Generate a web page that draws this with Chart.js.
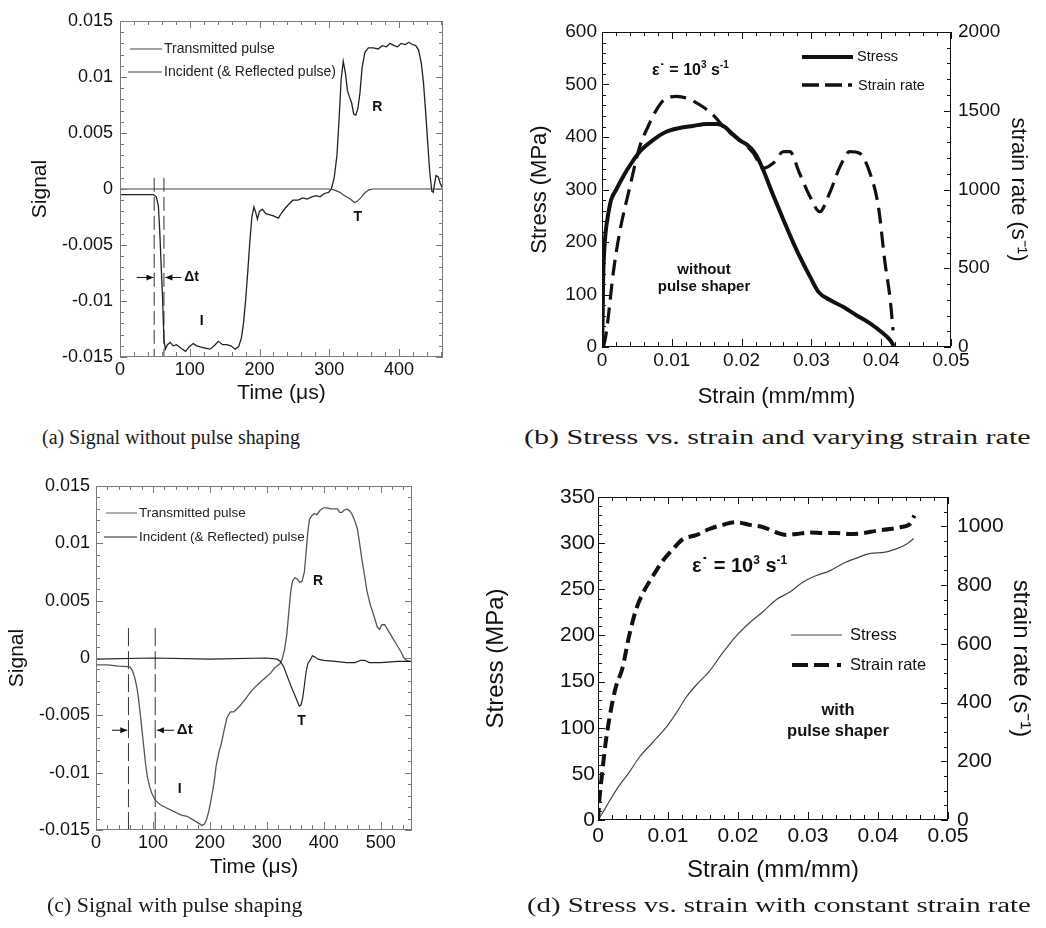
<!DOCTYPE html>
<html>
<head>
<meta charset="utf-8">
<script src="https://cdn.jsdelivr.net/npm/chart.js"></script>
<style>
  body { margin: 0; background: #fff; width: 1046px; height: 928px; position: relative; overflow: hidden; }
  canvas { position: absolute; }
  .cap { position: absolute; font-family: 'Liberation Serif', 'Times New Roman', serif; font-size: 20px; color: #1a1a1a; white-space: nowrap; transform-origin: 0 50%; }
</style>
</head>
<body>
<canvas id="chartA" width="470" height="420" style="left:0;top:0"></canvas>
<canvas id="chartB" width="566" height="420" style="left:480px;top:0"></canvas>
<canvas id="chartC" width="470" height="440" style="left:0;top:460px"></canvas>
<canvas id="chartD" width="576" height="440" style="left:470px;top:460px"></canvas>
<div class="cap" id="capA">(a) Signal without pulse shaping</div>
<div class="cap" id="capB">(b) Stress vs. strain and varying strain rate</div>
<div class="cap" id="capC">(c) Signal with pulse shaping</div>
<div class="cap" id="capD">(d) Stress vs. strain with constant strain rate</div>
<script>
// ---- data ----
// (a) signal without pulse shaping: [time us, signal]
const aIncident = [[0,-0.0005],[30,-0.0005],[48,-0.0005],[52,-0.0007],[55,-0.0015],[57,-0.0038],[59,-0.0068],[61,-0.0097],[63,-0.0135],
  [65,-0.0143],[68,-0.0139],[72,-0.0137],[76,-0.0140],[81,-0.0139],[87,-0.0142],[94,-0.0145],[99,-0.0141],[105,-0.0138],[110,-0.0140],
  [115,-0.0141],[122,-0.0142],[129,-0.0143],[135,-0.0140],[141,-0.0136],[147,-0.0139],[153,-0.0139],[159,-0.0140],[165,-0.0143],
  [170,-0.0141],[174,-0.0133],[177,-0.0120],[180,-0.0100],[183,-0.0075],[186,-0.0048],[189,-0.0025],[192,-0.0016],[195,-0.0022],
  [197,-0.0027],[200,-0.0020],[204,-0.0018],[209,-0.0022],[215,-0.0023],[220,-0.0024],[227,-0.0026],[232,-0.0021],[237,-0.0017],
  [243,-0.0013],[248,-0.0010],[255,-0.0010],[262,-0.0008],[268,-0.0009],[275,-0.0007],[281,-0.0006],[287,-0.0007],[293,-0.0004],
  [299,-0.0003],[303,0],[307,0.0010],[311,0.0030],[314,0.0062],[317,0.0098],[320,0.0114],[323,0.0104],[326,0.0088],[329,0.0082],
  [332,0.0077],[335,0.0067],[338,0.0066],[341,0.0072],[344,0.0086],[347,0.0108],[351,0.0122],[356,0.0126],[363,0.0126],[370,0.0125],
  [376,0.0128],[382,0.0127],[387,0.0130],[393,0.0128],[398,0.0127],[403,0.0130],[409,0.0129],[414,0.0131],[419,0.0129],[424,0.0128],
  [428,0.0124],[432,0.0112],[435,0.0095],[438,0.0070],[441,0.0042],[444,0.0015],[447,-0.0002],[449,-0.0003],[451,0.0005],[453,0.0012],
  [456,0.0011],[459,0.0005],[463,0]];
const aTransmitted = [[0,0],[300,0],[308,-0.0001],[315,-0.0003],[322,-0.0006],[330,-0.0009],[336,-0.0012],[340,-0.0011],[345,-0.0008],
  [350,-0.0004],[356,-0.0001],[362,0],[463,0]];
const aMarkers = [49, 63];

// (c) signal with pulse shaping
const cIncident = [[0,-0.0006],[20,-0.0006],[40,-0.0007],[55,-0.00075],[60,-0.0008],[64,-0.0011],[68,-0.0017],[72,-0.0026],[75,-0.0037],
  [78,-0.0050],[81,-0.0064],[84,-0.0078],[87,-0.0092],[90,-0.0103],[94,-0.0112],[98,-0.0118],[104,-0.0124],[113,-0.0128],[125,-0.0131],
  [137,-0.0134],[150,-0.0137],[160,-0.0138],[170,-0.0141],[180,-0.0144],[186,-0.0146],[190,-0.0145],[194,-0.0141],[198,-0.0134],
  [202,-0.0124],[207,-0.0110],[211,-0.0094],[216,-0.0082],[220,-0.0075],[225,-0.0063],[230,-0.0052],[236,-0.0047],[242,-0.0047],
  [248,-0.0044],[254,-0.0041],[262,-0.0036],[271,-0.0030],[280,-0.0025],[289,-0.0021],[298,-0.0017],[307,-0.0013],[313,-0.0009],
  [318,-0.0007],[323,-0.0005],[327,-0.0001],[331,0.0007],[335,0.0020],[339,0.0042],[342,0.0058],[345,0.0067],[349,0.0070],[353,0.0069],
  [358,0.0066],[362,0.0067],[366,0.0075],[369,0.0092],[372,0.0110],[375,0.0121],[379,0.0124],[383,0.0126],[388,0.0125],[394,0.0129],
  [400,0.0131],[406,0.0131],[412,0.0130],[418,0.0130],[424,0.0130],[428,0.0127],[432,0.0127],[436,0.0129],[441,0.0130],[446,0.0128],
  [450,0.0125],[455,0.0119],[459,0.0113],[463,0.0100],[467,0.0086],[471,0.0074],[476,0.0058],[482,0.0046],[488,0.0037],[494,0.0027],
  [498,0.0025],[502,0.0029],[507,0.0029],[512,0.0025],[518,0.0020],[524,0.0015],[530,0.0010],[536,0.0005],[541,0],[545,-0.0002],
  [550,-0.0003],[555,-0.0003]];
const cTransmitted = [[0,-0.0001],[100,0],[200,-0.0001],[300,0],[318,-0.0001],[324,-0.0003],[330,-0.0008],[336,-0.0016],[342,-0.0024],
  [348,-0.0031],[353,-0.0037],[357,-0.0042],[360,-0.0041],[363,-0.0035],[366,-0.0024],[369,-0.0012],[372,-0.0005],[376,-0.0002],
  [380,0.0002],[384,0.0001],[390,-0.0001],[400,-0.0002],[420,-0.0003],[440,-0.0004],[455,-0.0004],[465,-0.0002],[472,-0.0002],
  [480,-0.0004],[500,-0.0004],[530,-0.0003],[555,-0.0003]];
const cMarkers = [57, 104];

// (b) without pulse shaper: [strain, stress MPa] and [strain, strain rate 1/s]
const bStress = [[0,0],[0.0001,60],[0.00015,120],[0.0003,178],[0.0005,216],[0.0009,254],[0.0013,280],[0.002,299],[0.003,324],
  [0.0042,350],[0.0056,375],[0.0073,394],[0.0092,410],[0.0111,417],[0.013,421],[0.015,425],[0.0165,425],[0.0175,420],[0.0185,408],
  [0.0197,394],[0.0208,385],[0.0217,373],[0.0224,358],[0.0231,337],[0.0245,290],[0.026,242],[0.0279,184],[0.0298,134],[0.031,105],
  [0.0326,90],[0.0346,76],[0.0365,60],[0.0384,45],[0.04,29],[0.0413,13],[0.0418,2]];
const bRate = [[0.0002,0],[0.0005,60],[0.0009,191],[0.0016,467],[0.0025,721],[0.004,1018],[0.0054,1272],[0.0066,1400],[0.0078,1506],
  [0.0092,1580],[0.0107,1591],[0.0121,1580],[0.014,1538],[0.0159,1474],[0.0178,1379],[0.0197,1315],[0.0217,1230],[0.0231,1135],
  [0.0245,1166],[0.026,1240],[0.0269,1240],[0.0283,1103],[0.0298,955],[0.0312,859],[0.0326,976],[0.0341,1145],[0.0355,1240],
  [0.0369,1230],[0.0384,1103],[0.0396,891],[0.0405,551],[0.0413,297],[0.0417,106]];

// (d) with pulse shaper
const dStress = [[0,0],[0.0006,7],[0.0016,20],[0.003,37],[0.0044,51],[0.0059,68],[0.0078,84],[0.0097,100],[0.0111,115],[0.0126,133],
  [0.014,146],[0.0159,161],[0.0178,181],[0.0197,199],[0.0217,214],[0.0236,226],[0.0255,239],[0.0274,247],[0.0293,258],[0.0312,265],
  [0.0331,270],[0.035,278],[0.037,284],[0.0389,289],[0.0408,290],[0.0427,294],[0.0441,299],[0.0451,305]];
const dRate = [[0,0],[0.0002,69],[0.0006,161],[0.0011,265],[0.0018,369],[0.0025,449],[0.0035,518],[0.0044,622],[0.0054,714],
  [0.0064,772],[0.0078,829],[0.0092,881],[0.0107,922],[0.0121,956],[0.014,970],[0.0159,991],[0.0178,1005],[0.0197,1014],
  [0.0217,1005],[0.0236,997],[0.0255,979],[0.0269,971],[0.0283,974],[0.0303,979],[0.0322,977],[0.0341,977],[0.036,974],
  [0.0379,977],[0.0398,985],[0.0417,991],[0.0432,997],[0.0446,1009],[0.0452,1037]];

// tick labels
const signalTicks = [-0.015, -0.01, -0.005, 0, 0.005, 0.01, 0.015];
const aTimeTicks = [0, 100, 200, 300, 400];
const cTimeTicks = [0, 100, 200, 300, 400, 500];
const strainTicks = [0, 0.01, 0.02, 0.03, 0.04, 0.05];
const bStressTicks = [0, 100, 200, 300, 400, 500, 600];
const bRateTicks = [0, 500, 1000, 1500, 2000];
const dStressTicks = [0, 50, 100, 150, 200, 250, 300, 350];
const dRateTicks = [0, 200, 400, 600, 800, 1000];

// ---- drawing ----
const FONT = "'Liberation Sans', Arial, Helvetica, sans-serif";
Chart.defaults.font.family = FONT;
Chart.defaults.color = '#111';
Chart.defaults.animation = false;

const pts = arr => arr.map(([x, y]) => ({ x, y }));
const vline = (x, top, bottom) => [{ x, y: top }, { x, y: bottom }];

function axis(o) {
  const s = {
    type: 'linear', position: o.pos, min: o.min, max: o.max,
    grid: { display: false, drawTicks: false }, border: { display: false },
    afterBuildTicks: sc => { sc.ticks = o.ticks.map(v => ({ value: v })); },
    ticks: { font: { size: o.size }, padding: o.pad, autoSkip: false, maxRotation: 0, callback: v => String(v) },
    title: { display: true, text: o.title, font: { size: o.tsize }, padding: o.tpad },
  };
  if (o.w) s.afterFit = sc => { sc.width = o.w; };
  if (o.h) s.afterFit = sc => { sc.height = o.h; };
  return s;
}

// inward tick marks on every side of the plot box, minor and major
function marks(scale, steps, fn) {
  const minor = steps[0], major = steps[1];
  const n = Math.floor((scale.max - scale.min) / minor + 1e-6);
  for (let i = 0; i <= n; i++) {
    const v = scale.min + i * minor;
    const r = v / major;
    fn(Math.round(scale.getPixelForValue(v)), Math.abs(r - Math.round(r)) < 1e-6 ? 7 : 4);
  }
}

function frame(cfg) {
  return {
    id: 'frame',
    afterDraw(chart) {
      const ctx = chart.ctx, a = chart.chartArea, sc = chart.scales;
      const L = Math.round(a.left), R = Math.round(a.right) - 1, T = Math.round(a.top), B = Math.round(a.bottom) - 1;
      ctx.save();
      ctx.setLineDash([]);
      ctx.fillStyle = cfg.color;
      ctx.fillRect(L, T, R - L + 1, 1);
      ctx.fillRect(L, B, R - L + 1, 1);
      ctx.fillRect(L, T, 1, B - T + 1);
      ctx.fillRect(R, T, 1, B - T + 1);
      marks(sc.x, cfg.x, (p, len) => {
        ctx.fillRect(p, B - len, 1, len);
        ctx.fillRect(p, T, 1, len);
      });
      marks(sc.y, cfg.y, (p, len) => {
        ctx.fillRect(L, p, len, 1);
        if (!cfg.y2) ctx.fillRect(R - len + 1, p, len, 1);
      });
      if (cfg.y2) marks(sc.y2, cfg.y2, (p, len) => { ctx.fillRect(R - len + 1, p, len, 1); });
      ctx.fillStyle = '#111';
      ctx.strokeStyle = '#111';
      cfg.extra(chart, ctx);
      ctx.restore();
    }
  };
}

function rich(ctx, parts, x, y, size, align) {
  const f = sup => 'bold ' + (sup ? Math.round(size * 0.62) : size) + 'px ' + FONT;
  let w = 0;
  for (const [t, sup] of parts) { ctx.font = f(sup); w += ctx.measureText(t).width; }
  let cx = align === 'center' ? x - w / 2 : x;
  ctx.textAlign = 'left';
  ctx.textBaseline = 'alphabetic';
  for (const [t, sup] of parts) {
    ctx.font = f(sup);
    ctx.fillText(t, cx, sup ? y - size * 0.42 : y);
    cx += ctx.measureText(t).width;
  }
}

function label(ctx, t, x, y, size, bold, align) {
  ctx.font = (bold ? 'bold ' : '') + size + 'px ' + FONT;
  ctx.textAlign = align || 'left';
  ctx.textBaseline = 'middle';
  ctx.fillText(t, x, y);
}

function seg(ctx, x1, x2, y, color, width, dash) {
  ctx.save();
  ctx.strokeStyle = color;
  ctx.lineWidth = width;
  ctx.setLineDash(dash || []);
  ctx.beginPath(); ctx.moveTo(x1, y); ctx.lineTo(x2, y); ctx.stroke();
  ctx.restore();
}

function arrow(ctx, x1, x2, y) {
  ctx.lineWidth = 1;
  ctx.beginPath(); ctx.moveTo(x1, y); ctx.lineTo(x2, y); ctx.stroke();
  const d = Math.sign(x2 - x1);
  ctx.beginPath(); ctx.moveTo(x2, y); ctx.lineTo(x2 - d * 7, y - 3); ctx.lineTo(x2 - d * 7, y + 3); ctx.closePath(); ctx.fill();
}

const eps = [['ε', 0], ['˙', 0], [' = 10', 0], ['3', 1], [' s', 0], ['-1', 1]];
const line = (data, color, width, extra) => Object.assign({ data: pts(data), borderColor: color, borderWidth: width,
  pointRadius: 0, fill: false, tension: 0 }, extra || {});
const marker = (x, top, dash) => ({ data: vline(x, top, -0.015), borderColor: '#333', borderWidth: 1, borderDash: dash, pointRadius: 0 });

function signalChart(id, incident, transmitted, markers, opt) {
  return new Chart(document.getElementById(id), {
    type: 'line',
    data: { datasets: [
      line(transmitted, opt.tColor, 1.2),
      line(incident, opt.iColor, 1.3),
      marker(markers[0], opt.mTop, opt.mDash), marker(markers[1], opt.mTop, opt.mDash)
    ] },
    options: {
      responsive: false,
      layout: { padding: opt.padding },
      plugins: { legend: { display: false }, tooltip: { enabled: false } },
      scales: {
        x: axis({ pos: 'bottom', min: 0, max: opt.xMax, ticks: opt.xTicks, size: 18, pad: opt.xPad, title: 'Time (μs)', tsize: 21,
          tpad: { top: 0, bottom: opt.xtPad }, h: opt.xH }),
        y: axis({ pos: 'left', min: -0.015, max: 0.015, ticks: signalTicks, size: 18, pad: opt.yPad, title: 'Signal', tsize: 21,
          tpad: { top: opt.ytPad, bottom: 0 }, w: opt.yW })
      }
    },
    plugins: [frame({ color: '#7a7a7a', x: [20, 100], y: [0.001, 0.005], extra: opt.extra })]
  });
}

signalChart('chartA', aIncident, aTransmitted, aMarkers, {
  tColor: '#444', iColor: '#222', mTop: 0.001, mDash: [14, 5], xMax: 463, xTicks: aTimeTicks,
  padding: { left: 0, top: 21, right: 27, bottom: 0 }, xH: 63, yW: 120, xPad: 2, yPad: 7, xtPad: 14, ytPad: 28,
  extra(chart, ctx) {
    const x = chart.scales.x, y = chart.scales.y;
    const ay = y.getPixelForValue(-0.0079);
    arrow(ctx, x.getPixelForValue(24), x.getPixelForValue(48), ay);
    arrow(ctx, x.getPixelForValue(88), x.getPixelForValue(65), ay);
    label(ctx, 'Δt', x.getPixelForValue(92), ay, 14, true);
    label(ctx, 'R', x.getPixelForValue(369), y.getPixelForValue(0.0073), 14, true, 'center');
    label(ctx, 'T', x.getPixelForValue(341), y.getPixelForValue(-0.0025), 14, true, 'center');
    label(ctx, 'I', x.getPixelForValue(117), y.getPixelForValue(-0.0118), 14, true, 'center');
    seg(ctx, 130, 162, 49, '#666', 1.2);
    seg(ctx, 128, 162, 72, '#444', 1.2);
    ctx.fillStyle = '#222';
    label(ctx, 'Transmitted pulse', 164, 49, 14);
    label(ctx, 'Incident (& Reflected pulse)', 164, 72, 14);
  }
});

signalChart('chartC', cIncident, cTransmitted, cMarkers, {
  tColor: '#222', iColor: '#555', mTop: 0.0026, mDash: [18, 5], xMax: 555, xTicks: cTimeTicks,
  padding: { left: 0, top: 26, right: 58, bottom: 0 }, xH: 70, yW: 96, xPad: 2, yPad: 6, xtPad: 20, ytPad: 5,
  extra(chart, ctx) {
    const x = chart.scales.x, y = chart.scales.y;
    const ay = y.getPixelForValue(-0.0063);
    arrow(ctx, x.getPixelForValue(28), x.getPixelForValue(55), ay);
    arrow(ctx, x.getPixelForValue(137), x.getPixelForValue(107), ay);
    label(ctx, 'Δt', x.getPixelForValue(142), ay, 15, true);
    label(ctx, 'R', x.getPixelForValue(390), y.getPixelForValue(0.0067), 14, true, 'center');
    label(ctx, 'T', x.getPixelForValue(361), y.getPixelForValue(-0.0055), 14, true, 'center');
    label(ctx, 'I', x.getPixelForValue(147), y.getPixelForValue(-0.0114), 14, true, 'center');
    seg(ctx, 106, 137, 53, '#777', 1.2);
    seg(ctx, 104, 137, 77, '#222', 1.2);
    ctx.fillStyle = '#222';
    label(ctx, 'Transmitted pulse', 139, 53, 13.5);
    label(ctx, 'Incident (& Reflected) pulse', 139, 77, 13.5);
  }
});

function stressChart(id, stress, rate, opt) {
  return new Chart(document.getElementById(id), {
    type: 'line',
    data: { datasets: [
      line(rate, '#111', opt.rWidth, { cubicInterpolationMode: 'monotone', yAxisID: 'y2', borderDash: opt.dash }),
      line(stress, opt.sColor, opt.sWidth, { cubicInterpolationMode: 'monotone', yAxisID: 'y' })
    ] },
    options: {
      responsive: false,
      layout: { padding: opt.padding },
      plugins: { legend: { display: false }, tooltip: { enabled: false } },
      scales: {
        x: axis({ pos: 'bottom', min: 0, max: 0.05, ticks: strainTicks, size: opt.size, pad: opt.xPad, title: 'Strain (mm/mm)',
          tsize: opt.tsize, tpad: { top: 0, bottom: opt.xtPad }, h: opt.xH }),
        y: axis({ pos: 'left', min: 0, max: opt.sMax, ticks: opt.sTicks, size: opt.size, pad: opt.yPad, title: 'Stress (MPa)',
          tsize: opt.tsize, tpad: { top: opt.ytPad, bottom: 0 }, w: opt.yW }),
        y2: axis({ pos: 'right', min: 0, max: opt.rMax, ticks: opt.rTicks, size: opt.size, pad: opt.y2Pad, title: 'strain rate (s⁻¹)',
          tsize: opt.tsize, tpad: { top: opt.y2tPad, bottom: 0 }, w: opt.y2W })
      }
    },
    plugins: [frame({ color: '#111', x: [0.002, 0.01], y: opt.yMarks, y2: opt.y2Marks, extra: opt.extra })]
  });
}

stressChart('chartB', bStress, bRate, {
  sColor: '#111', sWidth: 4, rWidth: 3.2, dash: [16, 8], sMax: 600, sTicks: bStressTicks, rMax: 2000, rTicks: bRateTicks,
  padding: { left: 0, top: 32, right: 0, bottom: 0 }, xH: 73, yW: 122, y2W: 95, size: 19, tsize: 22,
  xPad: 2, yPad: 5, y2Pad: 7, xtPad: 10, ytPad: 47, y2tPad: 15, yMarks: [20, 100], y2Marks: [100, 500],
  extra(chart, ctx) {
    seg(ctx, 322, 373, 57, '#111', 4);
    seg(ctx, 322, 372, 85, '#111', 3.5, [17, 6, 17, 6, 4, 40]);
    label(ctx, 'Stress', 377, 57, 14.5);
    label(ctx, 'Strain rate', 378, 86, 14.5);
    rich(ctx, eps, 172, 75, 16);
    label(ctx, 'without', 224, 270, 15, true, 'center');
    label(ctx, 'pulse shaper', 224, 287, 15, true, 'center');
  }
});

stressChart('chartD', dStress, dRate, {
  sColor: '#444', sWidth: 1.2, rWidth: 4, dash: [12, 6], sMax: 350, sTicks: dStressTicks, rMax: 1100, rTicks: dRateTicks,
  padding: { left: 0, top: 37, right: 0, bottom: 0 }, xH: 80, yW: 128, y2W: 98, size: 21, tsize: 24,
  xPad: 4, yPad: 3, y2Pad: 9, xtPad: 15, ytPad: 12, y2tPad: 11, yMarks: [10, 50], y2Marks: [50, 200],
  extra(chart, ctx) {
    seg(ctx, 321, 372, 175, '#444', 1.2);
    seg(ctx, 322, 372, 205, '#111', 4, [16, 6, 15, 8, 4, 40]);
    label(ctx, 'Stress', 380, 175, 16.5);
    label(ctx, 'Strain rate', 380, 205, 16.5);
    rich(ctx, eps, 222, 112, 20);
    label(ctx, 'with', 368, 250, 16.5, true, 'center');
    label(ctx, 'pulse shaper', 368, 271, 16.5, true, 'center');
  }
});

// captions, stretched to the reference width
[['capA', 42, 300, 437], ['capB', 524, 1031, 437], ['capC', 47, 302, 905], ['capD', 527, 1031, 905]].forEach(([id, l, r, cy]) => {
  const el = document.getElementById(id);
  const w = el.offsetWidth, h = el.offsetHeight;
  el.style.left = l + 'px';
  el.style.top = (cy - h / 2) + 'px';
  el.style.transform = 'scaleX(' + ((r - l) / w) + ')';
});
</script>
</body>
</html>
